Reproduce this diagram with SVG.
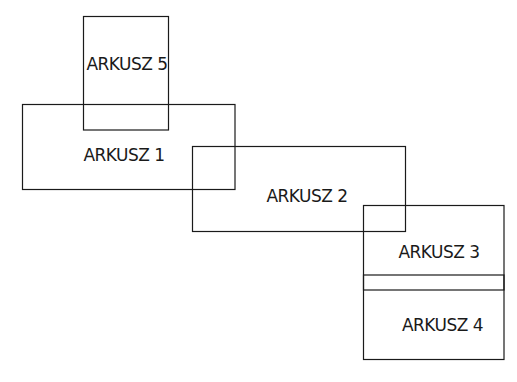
<svg xmlns="http://www.w3.org/2000/svg" width="517" height="382" viewBox="0 0 517 382">
<style>
rect{fill:none;stroke:#1a1a1a;stroke-width:1.2}
text{font-family:"DejaVu Sans",sans-serif;font-size:17px;letter-spacing:-0.5px;fill:#1a1a1a;text-anchor:middle}
</style>
<rect width="517" height="382" fill="#fff" style="stroke:none"/>
<g id="arkusz5"><rect x="83.5" y="16.5" width="85" height="113.5"/><text x="127" y="69.5">ARKUSZ 5</text></g>
<g id="arkusz1"><rect x="22.5" y="104.5" width="212.5" height="85"/><text x="124" y="160.5">ARKUSZ 1</text></g>
<g id="arkusz2"><rect x="192.5" y="146.5" width="213" height="85"/><text x="307" y="201.5">ARKUSZ 2</text></g>
<g id="arkusz3"><rect x="363.5" y="205.5" width="140.5" height="84.5"/><text x="439" y="257.5">ARKUSZ 3</text></g>
<g id="arkusz4"><rect x="363.5" y="275" width="140.5" height="84.5"/><text x="442.5" y="330.5">ARKUSZ 4</text></g>
<g id="connectors"></g>
</svg>
